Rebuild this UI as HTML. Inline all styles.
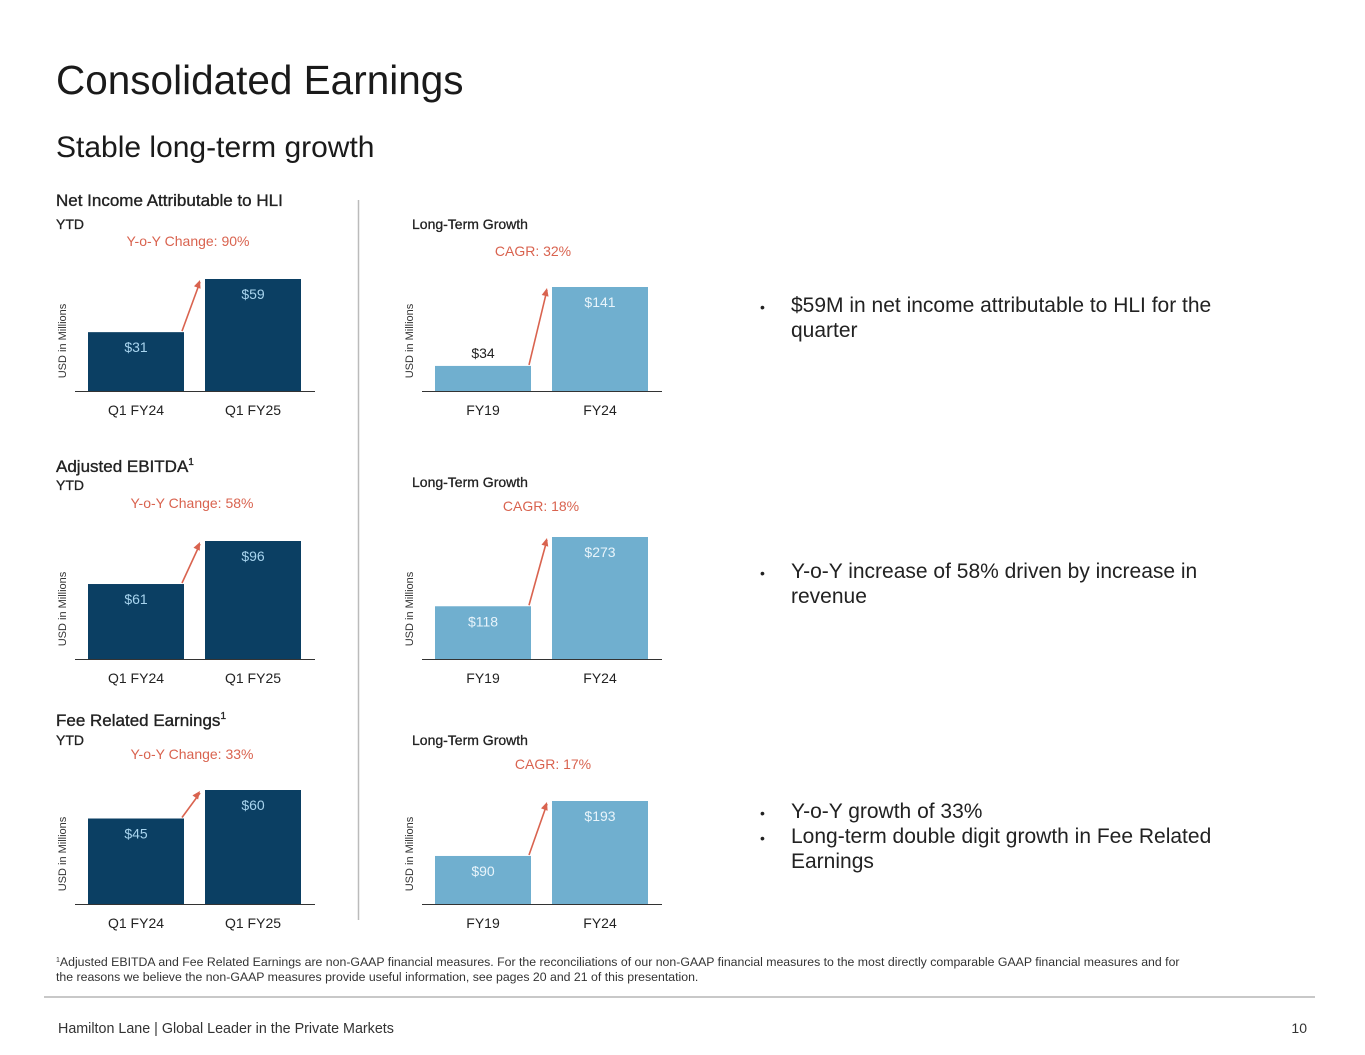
<!DOCTYPE html>
<html><head><meta charset="utf-8"><style>
html,body{margin:0;padding:0;background:#fff;}
svg{display:block;font-family:"Liberation Sans",sans-serif;}
</style></head><body>
<svg id="s" width="1365" height="1055" viewBox="0 0 1365 1055">
<text x="56" y="94" font-size="40.5" fill="#1a1a1a">Consolidated Earnings</text>
<text x="56" y="157" font-size="30" fill="#1a1a1a">Stable long-term growth</text>
<line x1="358.5" y1="200" x2="358.5" y2="920" stroke="#bbb" stroke-width="1.5"/>

<g font-size="17" fill="#222" stroke="#222" stroke-width="0.35">
<text x="56" y="206">Net Income Attributable to HLI</text>
<text x="56" y="472">Adjusted EBITDA<tspan font-size="10" dy="-7">1</tspan></text>
<text x="56" y="726">Fee Related Earnings<tspan font-size="10" dy="-7">1</tspan></text>
</g>

<g font-size="21" fill="#222">
<text x="760" y="312" font-size="14">•</text>
<text x="791" y="312">$59M in net income attributable to HLI for the<tspan x="791" dy="25">quarter</tspan></text>
<text x="760" y="578" font-size="14">•</text>
<text x="791" y="578">Y-o-Y increase of 58% driven by increase in<tspan x="791" dy="25">revenue</tspan></text>
<text x="760" y="818" font-size="14">•</text>
<text x="791" y="818">Y-o-Y growth of 33%</text>
<text x="760" y="843" font-size="14">•</text>
<text x="791" y="843">Long-term double digit growth in Fee Related<tspan x="791" dy="25">Earnings</tspan></text>
</g>

<text x="56" y="966" font-size="12.3" fill="#333"><tspan font-size="7" dy="-4">1</tspan><tspan dy="4">Adjusted EBITDA and Fee Related Earnings are non-GAAP financial measures. For the reconciliations of our non-GAAP financial measures to the most directly comparable GAAP financial measures and for</tspan><tspan x="56" dy="15">the reasons we believe the non-GAAP measures provide useful information, see pages 20 and 21 of this presentation.</tspan></text>
<line x1="44" y1="997" x2="1315" y2="997" stroke="#c8c8c8" stroke-width="2"/>
<text x="58" y="1033" font-size="14.3" fill="#333">Hamilton Lane  |  Global Leader in the Private Markets</text>
<text x="1307" y="1033" font-size="14" fill="#333" text-anchor="end">10</text>
<g id="charts"></g>
</svg>
<script>
const netYtdCats=["Q1 FY24","Q1 FY25"];
const netYtdVals=[31,59];
const netLtCats=["FY19","FY24"];
const netLtVals=[34,141];
const ebitdaYtdCats=["Q1 FY24","Q1 FY25"];
const ebitdaYtdVals=[61,96];
const ebitdaLtCats=["FY19","FY24"];
const ebitdaLtVals=[118,273];
const freYtdCats=["Q1 FY24","Q1 FY25"];
const freYtdVals=[45,60];
const freLtCats=["FY19","FY24"];
const freLtVals=[90,193];
const changeLabels=["Y-o-Y Change: 90%","CAGR: 32%","Y-o-Y Change: 58%","CAGR: 18%","Y-o-Y Change: 33%","CAGR: 17%"];

const NS="http://www.w3.org/2000/svg";
const root=document.getElementById('charts');
function mk(tag,attrs,parent,text){const e=document.createElementNS(NS,tag);for(const k in attrs)e.setAttribute(k,attrs[k]);if(text!=null)e.textContent=text;parent.appendChild(e);return e;}

function chart(cfg){
  const g=mk('g',{},root);
  
  
  const maxV=Math.max(...cfg.vals);
  const y=v=>cfg.base-v/maxV*cfg.maxH;
  const xs=[cfg.x0,cfg.x0+117];
  const bw=96;
  if(cfg.head){const h=mk('text',{x:cfg.headX,y:cfg.headY,'font-size':14,fill:'#222',stroke:'#222','stroke-width':0.3},g,cfg.head);
    
    }
  const ch=mk('text',{x:cfg.chX,y:cfg.chY,'font-size':14,fill:'#d9634f','text-anchor':'middle'},g,cfg.change);
  
  
  const yt=mk('text',{x:0,y:0,'font-size':11,fill:'#333','text-anchor':'middle',transform:`translate(${cfg.x0-22},${cfg.base-50}) rotate(-90)`},g,'USD in Millions');
  
  
  cfg.vals.forEach((v,i)=>{
    const top=y(v);
    const r=mk('rect',{x:xs[i],y:top,width:bw,height:cfg.base-top,fill:cfg.color},g);
    
    
    const inside=(cfg.base-top)>40;
    const t=mk('text',{x:xs[i]+bw/2,y:inside?top+20:top-8,'font-size':14,fill:inside?cfg.labelColor:'#222','text-anchor':'middle'},g,'$'+v);
    
    
    const c=mk('text',{x:xs[i]+bw/2,y:cfg.base+24,'font-size':14,fill:'#222','text-anchor':'middle'},g,cfg.cats[i]);
    
    
  });
  const ax=mk('line',{x1:cfg.x0-13,x2:cfg.x0+2*bw+21+13+1,y1:cfg.base+0.5,y2:cfg.base+0.5,stroke:'#333','stroke-width':1},g);
  
  
  const y1=y(cfg.vals[0]), y2=y(cfg.vals[1]);
  const ax1=xs[0]+bw-2, ax2=xs[1]-5;
  const ln=mk('line',{x1:ax1,y1:y1-1,x2:ax2,y2:y2+3,stroke:'#d9634f','stroke-width':1.6},g);
  
  
  const ang=Math.atan2((y2+3)-(y1-1),ax2-ax1);
  const L=8,W=3.5;
  const px=ax2,py=y2+1;
  const bx=px-L*Math.cos(ang),by=py-L*Math.sin(ang);
  const nx=-Math.sin(ang),ny=Math.cos(ang);
  const hd=mk('polygon',{points:`${px},${py} ${bx+nx*W},${by+ny*W} ${bx-nx*W},${by-ny*W}`,fill:'#d9634f'},g);
  
  
}
const dark='#0b3f63', light='#70afcf';
chart({name:'net-income-ytd-chart',cats:netYtdCats,vals:netYtdVals,x0:88,base:391,maxH:112,color:dark,labelColor:'#a8d4ee',head:'YTD',headX:56,headY:229,change:changeLabels[0],chX:188,chY:246});
chart({name:'net-income-longterm-chart',cats:netLtCats,vals:netLtVals,x0:435,base:391,maxH:104,color:light,labelColor:'#e8f4fb',head:'Long-Term Growth',headX:412,headY:229,change:changeLabels[1],chX:533,chY:256});
chart({name:'ebitda-ytd-chart',cats:ebitdaYtdCats,vals:ebitdaYtdVals,x0:88,base:659,maxH:118,color:dark,labelColor:'#a8d4ee',head:'YTD',headX:56,headY:490,change:changeLabels[2],chX:192,chY:508});
chart({name:'ebitda-longterm-chart',cats:ebitdaLtCats,vals:ebitdaLtVals,x0:435,base:659,maxH:122,color:light,labelColor:'#e8f4fb',head:'Long-Term Growth',headX:412,headY:487,change:changeLabels[3],chX:541,chY:511});
chart({name:'fre-ytd-chart',cats:freYtdCats,vals:freYtdVals,x0:88,base:904,maxH:114,color:dark,labelColor:'#a8d4ee',head:'YTD',headX:56,headY:745,change:changeLabels[4],chX:192,chY:759});
chart({name:'fre-longterm-chart',cats:freLtCats,vals:freLtVals,x0:435,base:904,maxH:103,color:light,labelColor:'#e8f4fb',head:'Long-Term Growth',headX:412,headY:745,change:changeLabels[5],chX:553,chY:769});
</script>
</body></html>
